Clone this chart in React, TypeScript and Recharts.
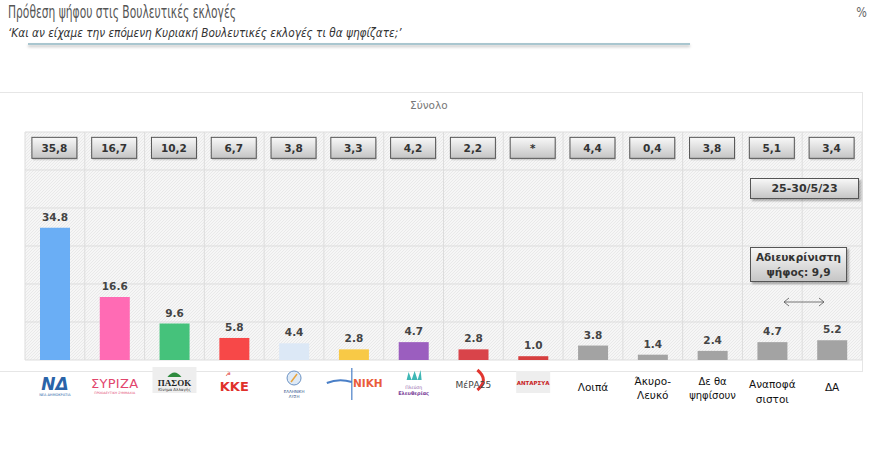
import React from 'react';
import { BarChart, Bar, XAxis, YAxis, CartesianGrid, LabelList, Cell, ReferenceDot } from 'recharts';

const parties = [
  'ΝΔ', 'ΣΥΡΙΖΑ', 'ΠΑΣΟΚ', 'ΚΚΕ', 'Ελληνική Λύση', 'ΝΙΚΗ', 'Πλεύση Ελευθερίας',
  'ΜέΡΑ25', 'ΑΝΤΑΡΣΥΑ', 'Λοιπά', 'Άκυρο-Λευκό', 'Δε θα ψηφίσουν', 'Αναποφάσιστοι', 'ΔΑ',
];
const currentValues = [34.8, 16.6, 9.6, 5.8, 4.4, 2.8, 4.7, 2.8, 1.0, 3.8, 1.4, 2.4, 4.7, 5.2];
const previousLabels = ['35,8', '16,7', '10,2', '6,7', '3,8', '3,3', '4,2', '2,2', '*', '4,4', '0,4', '3,8', '5,1', '3,4'];
const barColors = [
  '#6aaef5', '#ff6bb4', '#45c27b', '#f74848', '#dce8f6', '#f8c946', '#9b5ebf',
  '#d9444a', '#d63f3f', '#a3a3a3', '#a3a3a3', '#a3a3a3', '#a3a3a3', '#a3a3a3',
];
const yTicks = [0, 10, 20, 30, 40, 50, 60];

const data = parties.map((party, i) => ({ party, value: currentValues[i] }));

const FONT = '"DejaVu Sans", Verdana, sans-serif';

const PrevBox = ({ cx, cy, label }: any) => (
  <g>
    <rect x={cx - 22} y={cy - 9} width={45} height={21} fill="#999" opacity={0.35} />
    <rect x={cx - 23} y={cy - 11} width={45} height={21} fill="url(#btnGrad)" stroke="#555" strokeWidth={1} />
    <text x={cx - 0.5} y={cy + 3.5} textAnchor="middle" fontFamily={FONT} fontWeight="bold" fontSize={10.5} fill="#333">
      {label}
    </text>
  </g>
);

const PartyTick = ({ x, y, payload }: any) => {
  const v = payload.value;
  const t = (dy: number, s: string, size = 11, color = '#111', extra: any = {}) => (
    <text x={x} y={y + dy} textAnchor="middle" fontFamily={FONT} fontSize={size} fill={color} {...extra}>{s}</text>
  );
  switch (v) {
    case 'ΝΔ':
      return (
        <g>
          {t(30, 'ΝΔ', 17, '#2a63a8', { fontWeight: 'bold', fontStyle: 'italic' })}
          {t(36, 'ΝΕΑ ΔΗΜΟΚΡΑΤΙΑ', 3.5, '#2a63a8')}
        </g>
      );
    case 'ΣΥΡΙΖΑ':
      return (
        <g>
          {t(28, 'ΣΥΡΙΖΑ', 13, '#e2456d', { letterSpacing: 0.3 })}
          {t(34, 'ΠΡΟΟΔΕΥΤΙΚΗ ΣΥΜΜΑΧΙΑ', 3.2, '#e2456d')}
        </g>
      );
    case 'ΠΑΣΟΚ':
      return (
        <g>
          <rect x={x - 22} y={y + 7} width={44} height={26} fill="#eeeeee" />
          <path d={`M${x - 7},${y + 17} Q${x},${y + 8} ${x + 7},${y + 17} Z`} fill="#2e8b3e" />
          {t(26, 'ΠΑΣΟΚ', 9, '#222', { fontWeight: 'bold', fontFamily: 'serif' })}
          {t(31, 'Κίνημα Αλλαγής', 4, '#333')}
        </g>
      );
    case 'ΚΚΕ':
      return (
        <g>
          <text x={x - 6} y={y + 16} textAnchor="middle" fontFamily={FONT} fontSize={6} fill="#e0302b">☭</text>
          {t(31, 'ΚΚΕ', 13, '#e0302b', { fontWeight: 'bold' })}
        </g>
      );
    case 'Ελληνική Λύση':
      return (
        <g>
          <circle cx={x} cy={y + 18} r={7} fill="#dfeaf6" stroke="#6c93c4" strokeWidth={1} />
          <path d={`M${x - 3},${y + 22} L${x + 3},${y + 14}`} stroke="#e8a33a" strokeWidth={1.5} />
          {t(33, 'ΕΛΛΗΝΙΚΗ', 4, '#2c4f86')}
          {t(38, 'ΛΥΣΗ', 4, '#2c4f86')}
        </g>
      );
    case 'ΝΙΚΗ':
      return (
        <g>
          <path d={`M${x - 27},${y + 23} Q${x - 15},${y + 18} ${x - 2},${y + 22}`} stroke="#4a7fc7" strokeWidth={2} fill="none" />
          <line x1={x - 2} y1={y + 8} x2={x - 2} y2={y + 40} stroke="#4a7fc7" strokeWidth={1.2} />
          <text x={x + 14} y={y + 27} textAnchor="middle" fontFamily={FONT} fontSize={10.5} fontWeight="bold" fill="#ea5b3b">ΝΙΚΗ</text>
        </g>
      );
    case 'Πλεύση Ελευθερίας':
      return (
        <g>
          <path d={`M${x - 7},${y + 20} L${x - 5},${y + 12} L${x - 2},${y + 20} L${x + 1},${y + 11} L${x + 4},${y + 20} L${x + 7},${y + 10} L${x + 8},${y + 20} Z`} fill="#3fb7b5" />
          {t(29, 'Πλεύση', 4.5, '#8e5aa8')}
          {t(35, 'Ελευθερίας', 5, '#7a3e98', { fontWeight: 'bold' })}
        </g>
      );
    case 'ΜέΡΑ25':
      return (
        <g>
          <path d={`M${x + 4},${y + 10} Q${x + 16},${y + 20} ${x + 4},${y + 30}`} stroke="#e2352f" strokeWidth={3} fill="none" />
          {t(28, 'ΜέΡΑ25', 9, '#444')}
        </g>
      );
    case 'ΑΝΤΑΡΣΥΑ':
      return (
        <g>
          <rect x={x - 17} y={y + 11} width={34} height={22} fill="#eeeeee" />
          {t(25, 'ΑΝΤΑΡΣΥΑ', 5.5, '#c8231f', { fontWeight: 'bold' })}
        </g>
      );
    case 'Άκυρο-Λευκό':
      return <g>{t(25, 'Άκυρο-', 10.5)}{t(39, 'Λευκό', 10.5)}</g>;
    case 'Δε θα ψηφίσουν':
      return <g>{t(25, 'Δε θα', 10)}{t(39, 'ψηφίσουν', 10)}</g>;
    case 'Αναποφάσιστοι':
      return <g>{t(28, 'Αναποφά', 10.5)}{t(43, 'σιστοι', 10.5)}</g>;
    default:
      return <g>{t(31, v, 10.5)}</g>;
  }
};

const btnStyle: React.CSSProperties = {
  position: 'absolute',
  background: 'linear-gradient(#f7f7f7, #c6c6c6)',
  border: '1px solid #555',
  boxShadow: '2px 2px 2px rgba(0,0,0,0.3)',
  fontFamily: FONT,
  fontWeight: 'bold',
  fontSize: 10.5,
  color: '#333',
  textAlign: 'center',
  boxSizing: 'border-box',
};

export default function App() {
  return (
    <div style={{ position: 'absolute', left: 0, top: 0, width: 880, height: 464, background: '#fff', overflow: 'hidden' }}>
      <div style={{ position: 'absolute', left: 8, top: 2, fontFamily: FONT, fontSize: 17, color: '#555', whiteSpace: 'nowrap', transform: 'scaleX(0.63)', transformOrigin: 'left top' }}>
        Πρόθεση ψήφου στις Βουλευτικές εκλογές
      </div>
      <div style={{ position: 'absolute', left: 8, top: 25, fontFamily: FONT, fontSize: 12.5, fontStyle: 'italic', color: '#333', whiteSpace: 'nowrap', transform: 'scaleX(0.84)', transformOrigin: 'left top' }}>
        ‘Και αν είχαμε την επόμενη Κυριακή Βουλευτικές εκλογές τι θα ψηφίζατε;’
      </div>
      <div style={{ position: 'absolute', left: 28, top: 43, width: 662, height: 2, background: '#a9c6cf', boxShadow: '0 2px 3px rgba(0,0,0,0.25)' }} />
      <div style={{ position: 'absolute', left: 855, top: 4, fontFamily: FONT, fontSize: 14, color: '#666', transform: 'scaleX(0.8)' }}>%</div>

      <div style={{ position: 'absolute', left: -1, top: 92, width: 863, height: 278, borderTop: '1px solid #e6e6e6', borderRight: '1px solid #e6e6e6', borderBottom: '1px solid #e6e6e6' }} />
      <div style={{ position: 'absolute', left: 410, top: 99, fontFamily: FONT, fontSize: 10.5, color: '#777' }}>Σύνολο</div>

      <div style={{ position: 'absolute', left: 0, top: 0 }}>
        <BarChart width={880} height={464} data={data} margin={{ top: 132, right: 18, bottom: 44, left: 25 }}>
          <defs>
            <pattern id="hatch" patternUnits="userSpaceOnUse" width={3} height={3}>
              <rect width={3} height={3} fill="#f6f6f6" />
              <path d="M0,3 L3,0" stroke="#e6e6e6" strokeWidth={0.8} />
            </pattern>
            <linearGradient id="btnGrad" x1="0" y1="0" x2="0" y2="1">
              <stop offset="0%" stopColor="#f8f8f8" />
              <stop offset="100%" stopColor="#c4c4c4" />
            </linearGradient>
          </defs>
          <CartesianGrid
            stroke="#dddddd"
            fill="url(#hatch)"
            verticalCoordinatesGenerator={({ offset }: any) =>
              parties.map((_, i) => offset.left + (i * offset.width) / parties.length).concat(offset.left + offset.width)
            }
          />
          <YAxis hide domain={[0, 60]} ticks={yTicks} />
          <XAxis
            dataKey="party"
            height={60}
            axisLine={false}
            tickLine={false}
            tickSize={0}
            tickMargin={0}
            interval={0}
            tick={<PartyTick />}
          />
          <Bar dataKey="value" barSize={30} isAnimationActive={false}>
            {data.map((d, i) => (
              <Cell key={d.party} fill={barColors[i]} />
            ))}
            <LabelList
              dataKey="value"
              position="top"
              offset={7}
              formatter={(v: any) => Number(v).toFixed(1)}
              style={{ fontFamily: FONT, fontWeight: 'bold', fontSize: 10.5, fill: '#444' }}
            />
          </Bar>
          {parties.map((p, i) => (
            <ReferenceDot
              key={p}
              x={p}
              y={55.7}
              r={0}
              ifOverflow="visible"
              shape={(props: any) => <PrevBox cx={props.cx} cy={props.cy} label={previousLabels[i]} />}
            />
          ))}
        </BarChart>
      </div>

      <div style={{ ...btnStyle, left: 750, top: 178, width: 109, height: 21, lineHeight: '19px', fontSize: 11 }}>25-30/5/23</div>
      <div style={{ ...btnStyle, left: 750, top: 247, width: 97, height: 35, lineHeight: '15px', paddingTop: 2 }}>
        Αδιευκρίνιστη
        <br />
        ψήφος: 9,9
      </div>
      <svg style={{ position: 'absolute', left: 782, top: 296 }} width={44} height={12}>
        <line x1={2} y1={6} x2={42} y2={6} stroke="#555" strokeWidth={0.8} />
        <polyline points="7,2 2,6 7,10" fill="none" stroke="#555" strokeWidth={0.8} />
        <polyline points="37,2 42,6 37,10" fill="none" stroke="#555" strokeWidth={0.8} />
      </svg>
    </div>
  );
}
